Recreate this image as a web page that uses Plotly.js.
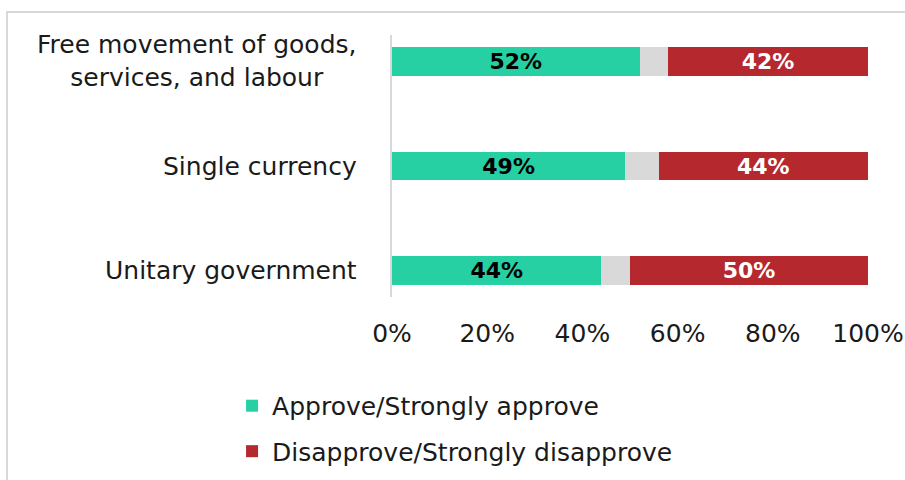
<!DOCTYPE html>
<html>
<head>
<meta charset="utf-8">
<script src="https://cdn.plot.ly/plotly-3.0.1.min.js"></script>
<style>
  html, body { margin: 0; padding: 0; background: #fff; }
  #wrap { position: relative; width: 905px; height: 480px; overflow: hidden; }
  #frame { position: absolute; left: 6px; top: 11px; width: 1000px; height: 1000px;
           border-top: 2px solid #d9d9d9; border-left: 2px solid #d9d9d9; pointer-events: none; }
  #chart { position: absolute; left: 0; top: 0; width: 905px; height: 480px; }
</style>
</head>
<body>
<div id="wrap">
  <div id="chart"></div>
  <div id="frame"></div>
</div>
<script>
const categories = ["Free movement of goods,<br>services, and labour", "Single currency", "Unitary government"];
const approve = [52, 49, 44];
const neutral = [6, 7, 6];
const disapprove = [42, 44, 50];
const xTickVals = [0, 20, 40, 60, 80, 100];
const xTickText = ["0%", "20%", "40%", "60%", "80%", "100%"];
const seriesNames = ["Approve/Strongly approve", "Disapprove/Strongly disapprove"];

const FONT = "DejaVu Sans, sans-serif";
const FS = 25;
const BAR_W = 0.276;

const traces = [
  {
    type: "bar", orientation: "h", y: categories, x: approve, name: seriesNames[0],
    marker: { color: "#26D0A3" }, width: BAR_W, legendgroup: "a",
    texttemplate: "%{x}%", textposition: "inside", insidetextanchor: "middle",
    textangle: 0, constraintext: "none",
    textfont: { family: FONT, size: 22, color: "#000", weight: "bold" },
    hoverinfo: "none"
  },
  {
    type: "bar", orientation: "h", y: categories, x: neutral, name: "Neutral",
    marker: { color: "#D9D9D9" }, width: BAR_W, showlegend: false, legendgroup: "n",
    hoverinfo: "none"
  },
  {
    type: "bar", orientation: "h", y: categories, x: disapprove, name: seriesNames[1],
    marker: { color: "#B5282E" }, width: BAR_W, legendgroup: "d",
    texttemplate: "%{x}%", textposition: "inside", insidetextanchor: "middle",
    textangle: 0, constraintext: "none",
    textfont: { family: FONT, size: 22, color: "#fff", weight: "bold" },
    hoverinfo: "none"
  }
];

const annotations = categories.map(c => ({
  xref: "paper", yref: "y", x: 0, y: c, xanchor: "right", yanchor: "middle",
  xshift: -33, text: c, showarrow: false, align: "center",
  font: { family: FONT, size: FS, color: "#1a1a1a" }
}));

const layout = {
  width: 905, height: 480,
  margin: { l: 392, r: 37, t: 35, b: 183, pad: 0, autoexpand: false },
  paper_bgcolor: "rgba(0,0,0,0)", plot_bgcolor: "rgba(0,0,0,0)",
  barmode: "stack", bargap: 0,
  font: { family: FONT, size: FS, color: "#1a1a1a" },
  xaxis: {
    range: [0, 100], tickvals: xTickVals, ticktext: xTickText,
    showgrid: false, zeroline: false, showline: false,
    ticks: "outside", ticklen: 14, tickcolor: "rgba(0,0,0,0)",
    tickfont: { family: FONT, size: FS, color: "#1a1a1a" }, fixedrange: true,
    automargin: false
  },
  yaxis: {
    type: "category", range: [2.25, -0.25],
    showticklabels: false, showgrid: false, zeroline: false,
    showline: true, linecolor: "#d9d9d9", linewidth: 2, ticks: "", fixedrange: true,
    automargin: false
  },
  showlegend: true,
  legend: {
    orientation: "v", x: -0.336, xanchor: "left", y: -0.328, yanchor: "top",
    font: { family: FONT, size: FS, color: "#1a1a1a" },
    traceorder: "grouped", tracegroupgap: 10, itemwidth: 30, bgcolor: "rgba(0,0,0,0)"
  },
  annotations: annotations
};

Plotly.newPlot("chart", traces, layout, { displayModeBar: false, staticPlot: true });
</script>
</body>
</html>
